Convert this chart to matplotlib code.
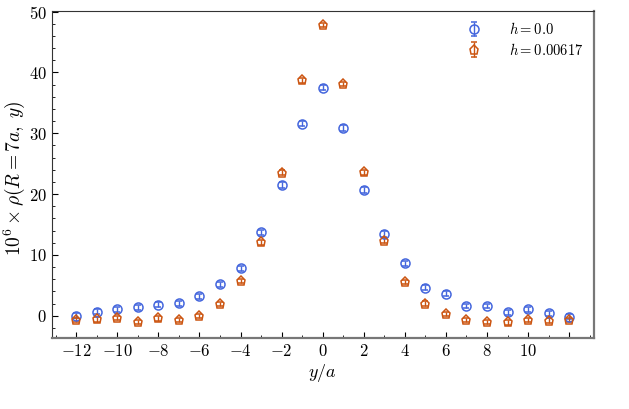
import numpy as np
import matplotlib
matplotlib.use("Agg")
import matplotlib.pyplot as plt

plt.rcParams['font.family'] = 'serif'
plt.rcParams['font.serif'] = ['cmr10', 'DejaVu Serif']
plt.rcParams['mathtext.fontset'] = 'cm'
plt.rcParams['axes.formatter.use_mathtext'] = True

y_sites = np.arange(-12, 13)

rho_h0 = [0.0, 0.66, 1.05, 1.38, 1.8, 2.05, 3.2, 5.2, 7.8, 13.7, 21.5, 31.6, 37.5,
          30.9, 20.7, 13.45, 8.6, 4.6, 3.6, 1.6, 1.6, 0.55, 1.05, 0.4, -0.15]
err_h0 = [0.4, 0.4, 0.4, 0.4, 0.4, 0.4, 0.4, 0.4, 0.4, 0.45, 0.45, 0.45, 0.45,
          0.45, 0.45, 0.45, 0.4, 0.4, 0.4, 0.4, 0.4, 0.4, 0.4, 0.4, 0.4]

rho_h1 = [-0.7, -0.6, -0.33, -1.0, -0.45, -0.7, 0.0, 1.9, 5.7, 12.1, 23.5, 38.7, 47.8,
          38.1, 23.6, 12.35, 5.6, 2.0, 0.33, -0.7, -1.05, -1.1, -0.7, -0.8, -0.7]
err_h1 = [0.35, 0.35, 0.35, 0.35, 0.35, 0.35, 0.35, 0.35, 0.35, 0.4, 0.4, 0.4, 0.4,
          0.4, 0.4, 0.4, 0.35, 0.35, 0.35, 0.35, 0.35, 0.35, 0.35, 0.35, 0.35]

xticks = [-12, -10, -8, -6, -4, -2, 0, 2, 4, 6, 8, 10, 12]
xticklabels = ['$-12$', '$-10$', '$-8$', '$-6$', '$-4$', '$-2$', '$0$', '$2$', '$4$',
               '$6$', '$8$', '$10$', '']

blue = '#4466dd'
orange = '#cc5511'

fig = plt.figure(figsize=(6.29, 4.09), dpi=100)
ax = fig.add_axes([0.082, 0.173, 0.862, 0.80])

ax.errorbar(y_sites, rho_h0, yerr=err_h0, fmt='o', color=blue, mfc='none',
            ms=6.5, mew=1.1, elinewidth=1.0, capsize=2.5, label=r'$h = 0.0$')
ax.errorbar(y_sites, rho_h1, yerr=err_h1, fmt='p', color=orange, mfc='none',
            ms=6.5, mew=1.1, elinewidth=1.0, capsize=2.5, label=r'$h = 0.00617$')

ax.set_xlim(-13.2, 13.2)
ax.set_ylim(-3.7, 50.1)
ax.set_xticks(xticks)
ax.set_xticklabels(xticklabels)
ax.set_xticks(np.arange(-13, 14, 1), minor=True)
ax.set_yticks([0, 10, 20, 30, 40, 50])
ax.set_yticks(np.arange(-2, 50, 2), minor=True)
ax.tick_params(which='both', direction='in', labelsize=12, top=False, right=False)
ax.tick_params(which='major', length=4)
ax.tick_params(which='minor', length=2)

for s in ['right', 'bottom']:
    ax.spines[s].set_color('#777777')
    ax.spines[s].set_linewidth(1.6)
ax.spines['top'].set_color('#333333')
ax.spines['left'].set_color('#333333')

ax.set_xlabel(r'$y/a$', fontsize=13, labelpad=2)
ax.set_ylabel(r'$10^6 \times \rho(R = 7a,\; y)$', fontsize=14)
ax.yaxis.set_label_coords(-0.045, 0.49)

ax.legend(loc='upper right', frameon=False, fontsize=10.5, handletextpad=1.4,
          labelspacing=0.3, borderaxespad=0.3)

fig.savefig('out.png', dpi=100)
